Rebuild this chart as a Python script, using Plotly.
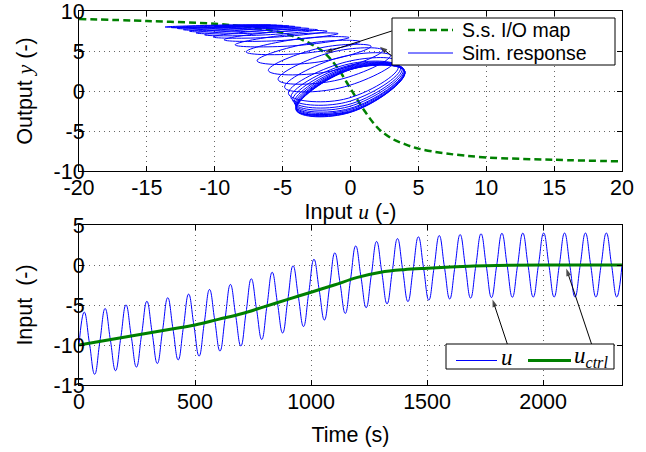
import plotly.graph_objects as go

# ---------------- data ----------------
# Steady-state I/O map (top panel, green dashed)
map_u = [-20, -15, -10, -7, -5, -4, -3, -2, -1, 0, 1, 2, 3, 4, 5, 7, 10, 15, 20]
map_y = [9.0, 8.75, 8.4, 7.9, 7.25, 6.7, 5.95, 4.9, 3.0, 0.3, -2.4, -4.6, -5.9, -6.65, -7.2,
         -7.8, -8.3, -8.6, -8.8]

# Samples at every quarter period of the dither (crossing, peak, crossing, trough)
time_s = [0, 22.5, 45, 67.5, 90, 112.5, 135, 157.5, 180, 202.5, 225, 247.5, 270, 292.5, 315,
          337.5, 360, 382.5, 405, 427.5, 450, 472.5, 495, 517.5, 540, 562.5, 585, 607.5, 630,
          652.5, 675, 697.5, 720, 742.5, 765, 787.5, 810, 832.5, 855, 877.5, 900, 922.5, 945,
          967.5, 990, 1012.5, 1035, 1057.5, 1080, 1102.5, 1125, 1147.5, 1170, 1192.5, 1215,
          1237.5, 1260, 1282.5, 1305, 1327.5, 1350, 1372.5, 1395, 1417.5, 1440, 1462.5, 1485,
          1507.5, 1530, 1552.5, 1575, 1597.5, 1620, 1642.5, 1665, 1687.5, 1710, 1732.5, 1755,
          1777.5, 1800, 1822.5, 1845, 1867.5, 1890, 1912.5, 1935, 1957.5, 1980, 2002.5, 2025,
          2047.5, 2070, 2092.5, 2115, 2137.5, 2160, 2182.5, 2205, 2227.5, 2250, 2272.5, 2295,
          2317.5, 2340]

# Input u at those samples
input_u = [-10.0, -5.89, -9.78, -13.66, -9.55, -5.44, -9.33, -13.21, -9.10, -4.99, -8.88, -12.76,
           -8.65, -4.54, -8.43, -12.31, -8.20, -4.09, -7.98, -11.86, -7.75, -3.64, -7.53, -11.38,
           -7.22, -3.06, -6.91, -10.75, -6.59, -2.43, -6.28, -10.12, -5.92, -1.72, -5.52, -9.31,
           -5.11, -0.91, -4.71, -8.50, -4.30, -0.10, -3.90, -7.69, -3.49, 0.71, -3.09, -6.88,
           -2.68, 1.52, -2.26, -6.05, -1.84, 2.38, -1.46, -5.33, -1.19, 2.94, -0.93, -4.85,
           -0.78, 3.30, -0.62, -4.57, -0.52, 3.52, -0.43, -4.39, -0.36, 3.68, -0.29, -4.25,
           -0.23, 3.80, -0.17, -4.14, -0.12, 3.90, -0.09, -4.07, -0.05, 3.96, -0.04, -4.03,
           -0.03, 3.98, -0.02, -4.01, 0.0, 4.0, 0.0, -4.0, 0.0, 4.0, 0.0, -4.0,
           0.0, 4.0, 0.0, -4.0, 0.0, 4.0, 0.0, -4.0, 0.0]

# Simulated output y at the same samples
output_y = [8.06, 8.24, 8.23, 8.00, 7.99, 8.22, 8.21, 7.93, 7.93, 8.20, 8.17, 7.82,
            7.79, 8.13, 8.10, 7.66, 7.64, 8.06, 8.03, 7.48, 7.44, 7.94, 7.89, 7.26,
            7.22, 7.81, 7.75, 7.03, 6.99, 7.65, 7.57, 6.76, 6.70, 7.47, 7.39, 6.40,
            6.31, 7.17, 7.01, 5.77, 5.64, 6.68, 6.50, 4.89, 4.71, 6.17, 5.95, 3.77,
            3.55, 5.59, 5.37, 2.56, 2.36, 5.09, 4.82, 1.42, 1.28, 4.43, 4.14, 0.45,
            0.38, 3.79, 3.50, -0.33, -1.05, 3.04, 3.25, -0.84, -1.42, 2.89, 3.12, -1.19,
            -1.73, 2.79, 3.03, -1.49, -1.95, 2.71, 2.95, -1.71, -2.18, 2.62, 2.88, -1.92,
            -2.31, 2.56, 2.81, -2.06, -2.45, 2.49, 2.75, -2.19, -2.56, 2.45, 2.72, -2.29,
            -2.63, 2.43, 2.69, -2.37, -2.67, 2.41, 2.67, -2.41, -2.67]

# Slow control input u_ctrl (bottom panel, thick green)
ctrl_t = [0, 100, 200, 300, 400, 500, 600, 700, 800, 900, 1000, 1100, 1200, 1300, 1400, 1500,
          1600, 1700, 1800, 2000, 2340]
ctrl_u = [-10, -9.5, -9.0, -8.5, -8.0, -7.5, -6.8, -6.1, -5.2, -4.3, -3.4, -2.5, -1.55, -0.9,
          -0.58, -0.4, -0.25, -0.13, -0.05, 0, 0]

# Callout arrows (tail -> head), in data units of each panel
top_arrow_u = [[3.04, -1.9], [3.04, 2.16]]
top_arrow_y = [[7.5, 4.8], [4.4, 5.54]]
bot_arrow_t = [[1846, 1782], [2209, 2100]]
bot_arrow_u = [[-9.9, -4.3], [-9.9, -0.45]]

# Tick labels
top_x_ticks = [-20, -15, -10, -5, 0, 5, 10, 15, 20]
top_x_text = ["-20", "-15", "-10", "-5", "0", "5", "10", "15", "20"]
top_y_ticks = [-10, -5, 0, 5, 10]
top_y_text = ["-10", "-5", "0", "5", "10"]
bot_x_ticks = [0, 500, 1000, 1500, 2000]
bot_x_text = ["0", "500", "1000", "1500", "2000"]
bot_y_ticks = [-15, -10, -5, 0, 5]
bot_y_text = ["-15", "-10", "-5", "0", "5"]

# ---------------- figure ----------------
SANS = "Liberation Sans, Arial, sans-serif"
SERIF = "Liberation Serif, Times New Roman, serif"
GREEN = "#008000"
BLUE = "#0000ff"
FS = 21.5

fig = go.Figure()

fig.add_trace(go.Scatter(x=map_u, y=map_y, mode="lines", name="S.s. I/O map",
                         line=dict(color=GREEN, width=2.5, dash="7px,4px", shape="spline"),
                         xaxis="x", yaxis="y", hoverinfo="skip"))
fig.add_trace(go.Scatter(x=input_u, y=output_y, mode="lines", name="Sim. response",
                         line=dict(color=BLUE, width=1, shape="spline", smoothing=1.3),
                         xaxis="x", yaxis="y"))
fig.add_trace(go.Scatter(x=time_s, y=input_u, mode="lines", name="u",
                         line=dict(color=BLUE, width=1, shape="spline", smoothing=1.3),
                         xaxis="x2", yaxis="y2"))
fig.add_trace(go.Scatter(x=ctrl_t, y=ctrl_u, mode="lines", name="u_ctrl",
                         line=dict(color=GREEN, width=3, shape="spline"),
                         xaxis="x2", yaxis="y2"))

for xs, ys, xa, ya in [(top_arrow_u[0], top_arrow_y[0], "x", "y"),
                       (top_arrow_u[1], top_arrow_y[1], "x", "y"),
                       (bot_arrow_t[0], bot_arrow_u[0], "x2", "y2"),
                       (bot_arrow_t[1], bot_arrow_u[1], "x2", "y2")]:
    fig.add_trace(go.Scatter(x=xs, y=ys, mode="lines+markers", xaxis=xa, yaxis=ya,
                             line=dict(color="black", width=1),
                             marker=dict(symbol=["circle", "arrow"], size=[0, 8],
                                         color="black", angleref="previous",
                                         line=dict(width=0)),
                             hoverinfo="skip", showlegend=False))

axis_common = dict(showline=True, linecolor="black", linewidth=1, mirror="ticks",
                   ticks="inside", ticklen=5, tickcolor="black", tickwidth=1,
                   showgrid=True, gridcolor="rgba(0,0,0,0.6)", griddash="1px,4px",
                   gridwidth=1, zeroline=False, automargin=False, ticklabeloverflow="allow",
                   tickfont=dict(family=SANS, size=FS, color="black"))

ITAL = "<span style='font-family:Liberation Serif;font-style:italic'>{}</span>"

fig.update_layout(
    width=646, height=452,
    margin=dict(l=79, r=24, t=11, b=67, autoexpand=False),
    paper_bgcolor="white", plot_bgcolor="white",
    font=dict(family=SANS, size=FS, color="black"),
    showlegend=False,
    xaxis=dict(domain=[0, 1], range=[-20, 20], tickvals=top_x_ticks, ticktext=top_x_text,
               anchor="y", ticklabelstandoff=-3,
               title=dict(text="Input " + ITAL.format("u") + " (-)",
                          standoff=3, font=dict(family=SANS, size=FS)),
               **axis_common),
    yaxis=dict(domain=[0.5722, 1], range=[-10, 10], tickvals=top_y_ticks, ticktext=top_y_text,
               anchor="x", ticklabelstandoff=-11,
               title=dict(text="Output " + ITAL.format("y") + " (-)",
                          standoff=15, font=dict(family=SANS, size=FS)),
               **axis_common),
    xaxis2=dict(domain=[0, 1], range=[0, 2340], tickvals=bot_x_ticks, ticktext=bot_x_text,
                anchor="y2", ticklabelstandoff=-3,
                title=dict(text="Time (s)", standoff=14, font=dict(family=SANS, size=FS)),
                **axis_common),
    yaxis2=dict(domain=[0, 0.4278], range=[-15, 5], tickvals=bot_y_ticks, ticktext=bot_y_text,
                anchor="x2", ticklabelstandoff=-11,
                title=dict(text="Input &#160;(-)", standoff=15, font=dict(family=SANS, size=FS)),
                **axis_common),
)


# ---------------- legends (box, key lines and labels) ----------------
def px_x(x):
    return (x - 79) / 543.0


def px_y(y):
    return (385 - y) / 374.0


shapes = []
# top legend
shapes.append(dict(type="rect", xref="paper", yref="paper", x0=px_x(392), x1=px_x(615),
                   y0=px_y(65), y1=px_y(18), line=dict(color="black", width=1),
                   fillcolor="white", layer="above"))
shapes.append(dict(type="line", xref="paper", yref="paper", x0=px_x(408), x1=px_x(453),
                   y0=px_y(30), y1=px_y(30), line=dict(color=GREEN, width=2.5, dash="7px,4px"),
                   layer="above"))
shapes.append(dict(type="line", xref="paper", yref="paper", x0=px_x(408), x1=px_x(453),
                   y0=px_y(53), y1=px_y(53), line=dict(color=BLUE, width=1), layer="above"))
# bottom legend
shapes.append(dict(type="rect", xref="paper", yref="paper", x0=px_x(446), x1=px_x(614),
                   y0=px_y(369), y1=px_y(344), line=dict(color="black", width=1),
                   fillcolor="white", layer="above"))
shapes.append(dict(type="line", xref="paper", yref="paper", x0=px_x(456), x1=px_x(497),
                   y0=px_y(360.5), y1=px_y(360.5), line=dict(color=BLUE, width=1),
                   layer="above"))
shapes.append(dict(type="line", xref="paper", yref="paper", x0=px_x(528), x1=px_x(571),
                   y0=px_y(360.5), y1=px_y(360.5), line=dict(color=GREEN, width=3),
                   layer="above"))
fig.update_layout(shapes=shapes)

label_style = dict(xref="paper", yref="paper", xanchor="left", yanchor="middle",
                   showarrow=False, borderpad=0)
fig.add_annotation(x=px_x(461), y=px_y(30), text="S.s. I/O map",
                   font=dict(family=SANS, size=19.5, color="black"), **label_style)
fig.add_annotation(x=px_x(461), y=px_y(53), text="Sim. response",
                   font=dict(family=SANS, size=19.5, color="black"), **label_style)
fig.add_annotation(x=px_x(500), y=px_y(357), text="<i>u</i>",
                   font=dict(family=SERIF, size=23, color="black"), **label_style)
fig.add_annotation(x=px_x(573), y=px_y(357), text="<i>u</i><sub><i>ctrl</i></sub>",
                   font=dict(family=SERIF, size=23, color="black"), **label_style)

fig.write_html("out.html", post_script="document.body.style.margin='0px';",
               config={"displayModeBar": False})
